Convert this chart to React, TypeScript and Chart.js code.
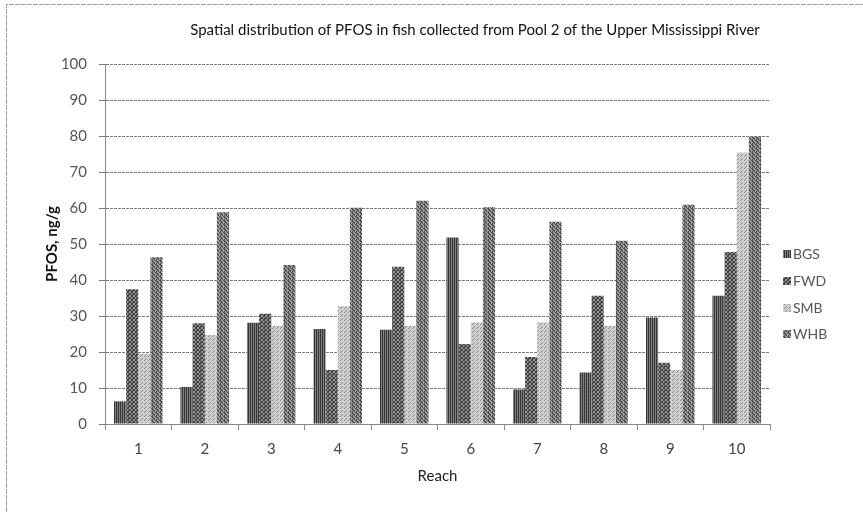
import React, { useEffect, useRef } from "react";
import { Chart, registerables } from "chart.js";

Chart.register(...registerables);

const reaches = ["1", "2", "3", "4", "5", "6", "7", "8", "9", "10"];
const bgs = [6.3, 10.3, 28.1, 26.4, 26.2, 51.8, 9.6, 14.3, 29.6, 35.6];
const fwd = [37.4, 28.0, 30.6, 15.0, 43.7, 22.2, 18.6, 35.6, 17.0, 47.8];
const smb = [19.5, 24.7, 27.3, 32.7, 27.3, 28.2, 28.2, 27.3, 15.0, 75.4];
const whb = [46.3, 58.8, 44.2, 60.1, 62.0, 60.2, 56.2, 50.9, 60.9, 79.8];
const seriesNames = ["BGS", "FWD", "SMB", "WHB"];
const yTicks = [0, 10, 20, 30, 40, 50, 60, 70, 80, 90, 100];

const FONT = "Lato, 'Open Sans', sans-serif";

function makePattern(kind: string): CanvasPattern | string {
  const c = document.createElement("canvas");
  const s = 4;
  c.width = s;
  c.height = s;
  const g = c.getContext("2d");
  if (!g) return "#888";
  if (kind === "BGS") {
    g.fillStyle = "#808080";
    g.fillRect(0, 0, s, s);
    g.fillStyle = "#353535";
    g.fillRect(0, 0, 1, s);
    g.fillRect(2, 0, 1, s);
  } else if (kind === "FWD") {
    g.fillStyle = "#959595";
    g.fillRect(0, 0, s, s);
    g.fillStyle = "#404040";
    for (let i = 0; i < s; i++) {
      g.fillRect(i, i, 1, 1);
      g.fillRect(s - 1 - i, i, 1, 1);
    }
    g.fillRect(0, 2, 1, 1);
  } else if (kind === "SMB") {
    g.fillStyle = "#d0d0d0";
    g.fillRect(0, 0, s, s);
    g.fillStyle = "#888888";
    g.fillRect(0, 0, 1, 1);
    g.fillRect(2, 2, 1, 1);
    g.fillRect(1, 3, 1, 1);
  } else {
    g.fillStyle = "#a4a4a4";
    g.fillRect(0, 0, s, s);
    g.fillStyle = "#4a4a4a";
    g.fillRect(0, 0, 1, 2);
    g.fillRect(1, 1, 1, 2);
    g.fillRect(2, 2, 1, 2);
    g.fillRect(3, 0, 1, 1);
    g.fillRect(0, 3, 1, 1);
  }
  const ctx2 = document.createElement("canvas").getContext("2d");
  const p = ctx2 ? ctx2.createPattern(c, "repeat") : null;
  return p || "#888";
}

export default function App() {
  const ref = useRef<HTMLCanvasElement | null>(null);

  useEffect(() => {
    if (!ref.current) return;
    const fills = seriesNames.map((n) => makePattern(n));
    const values = [bgs, fwd, smb, whb];

    const decor = {
      id: "decor",
      afterDraw(chart: any) {
        const ctx = chart.ctx;
        ctx.save();
        // outer border (top & left)
        ctx.strokeStyle = "#a0a0a0";
        ctx.lineWidth = 1;
        ctx.setLineDash([5, 1]);
        ctx.beginPath();
        ctx.moveTo(6.5, 512);
        ctx.lineTo(6.5, 4.5);
        ctx.lineTo(863, 4.5);
        ctx.stroke();
        ctx.setLineDash([]);
        // title
        ctx.fillStyle = "#111";
        ctx.font = `15px ${FONT}`;
        ctx.textAlign = "center";
        ctx.textBaseline = "middle";
        ctx.fillText(
          "Spatial distribution of PFOS in fish collected from Pool 2 of the Upper Mississippi River",
          475,
          30
        );
        // legend
        const ys = [254, 281, 308, 334];
        ctx.font = `14px ${FONT}`;
        ctx.textAlign = "left";
        seriesNames.forEach((n, i) => {
          ctx.fillStyle = fills[i] as any;
          ctx.fillRect(783, ys[i] - 4, 8, 8);
          ctx.fillStyle = "#555";
          ctx.fillText(n, 793, ys[i] + 0.5);
        });
        ctx.restore();
      },
    };

    const chart = new Chart(ref.current, {
      type: "bar",
      data: {
        labels: reaches,
        datasets: seriesNames.map((n, i) => ({
          label: n,
          data: values[i],
          backgroundColor: fills[i] as any,
          borderWidth: 0,
          categoryPercentage: 0.73,
          barPercentage: 1.0,
        })),
      },
      options: {
        animation: false,
        responsive: false,
        maintainAspectRatio: false,
        layout: { padding: { left: 0, top: 64, right: 93, bottom: 0 } },
        plugins: {
          legend: { display: false },
          title: { display: false },
          tooltip: { enabled: false },
        },
        scales: {
          x: {
            afterFit: (s: any) => {
              s.height = 88;
            },
            grid: {
              display: true,
              drawOnChartArea: false,
              drawTicks: true,
              tickLength: 6,
              color: "#888",
              offset: true,
            },
            border: { display: true, color: "#888" },
            ticks: {
              color: "#444",
              font: { family: FONT, size: 15 },
              padding: 10,
            },
            title: {
              display: true,
              text: "Reach",
              color: "#222",
              font: { family: FONT, size: 15 },
              padding: { top: 0, bottom: 27 },
            },
          },
          y: {
            min: 0,
            max: 100,
            afterFit: (s: any) => {
              s.width = 105;
            },
            afterBuildTicks: (s: any) => {
              s.ticks = yTicks.map((v) => ({ value: v }));
            },
            grid: {
              color: "#7a7a7a",
              tickLength: 6,
              drawTicks: true,
            },
            border: { display: true, color: "#888", dash: [3, 1] },
            ticks: {
              color: "#555",
              font: { family: FONT, size: 15 },
              padding: 12,
              stepSize: 10,
            },
            title: {
              display: true,
              text: "PFOS, ng/g",
              color: "#111",
              font: { family: FONT, size: 15, weight: "bold" },
              padding: { top: 43, bottom: 0 },
            },
          },
        },
      },
      plugins: [decor],
    } as any);

    return () => chart.destroy();
  }, []);

  return (
    <div style={{ position: "fixed", left: 0, top: 0, width: 863, height: 512, background: "#fff" }}>
      <canvas ref={ref} width={863} height={512} style={{ width: 863, height: 512 }} />
    </div>
  );
}
